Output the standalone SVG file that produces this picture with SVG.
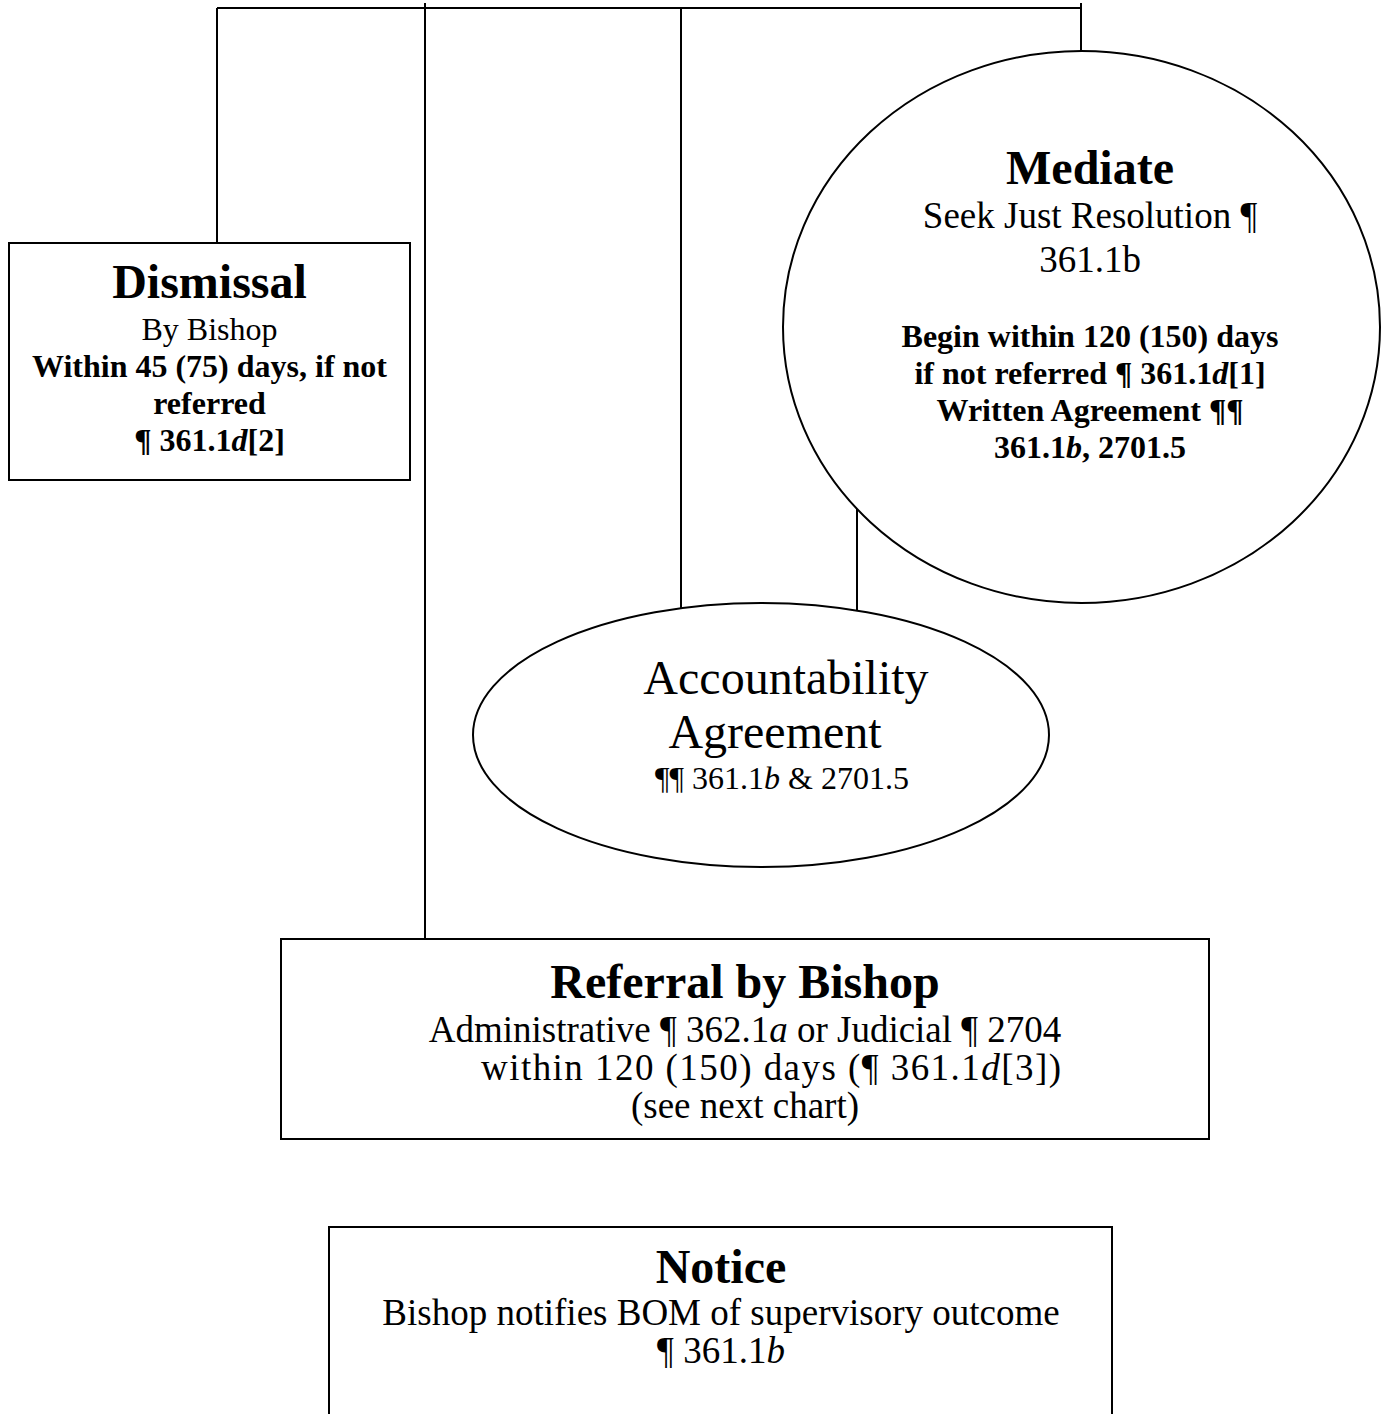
<svg xmlns="http://www.w3.org/2000/svg" width="1383" height="1414" viewBox="0 0 1383 1414">
<style>
  .shape { fill: #ffffff; stroke: #000000; stroke-width: 2; }
  .conn { fill: none; stroke: #000000; stroke-width: 2; }
  text { font-family: "Liberation Serif", "Times New Roman", serif; fill: #000000; text-anchor: middle; }
  .title { font-size: 48px; font-weight: bold; }
  .body { font-size: 37px; }
  .small { font-size: 32px; }
  .sb { font-size: 32px; font-weight: bold; }
  .i { font-style: italic; }
</style>
<rect x="0" y="0" width="1383" height="1414" fill="#ffffff"/>
<g id="connectors">
  <path class="conn" d="M217,8 H1081"/>
  <path class="conn" d="M217,8 V243"/>
  <path class="conn" d="M425,3 V939"/>
  <path class="conn" d="M681,8 V608"/>
  <path class="conn" d="M1081,3 V51"/>
  <path class="conn" d="M857,508 V611"/>
</g>
<g id="dismissal">
  <rect class="shape" x="9" y="243" width="401" height="237"/>
  <text class="title" x="209.5" y="298">Dismissal</text>
  <text class="small" x="209.5" y="340">By Bishop</text>
  <text class="sb" x="209.5" y="377">Within 45 (75) days, if not</text>
  <text class="sb" x="209.5" y="414">referred</text>
  <text class="sb" x="209.5" y="451">¶ 361.1<tspan class="i">d</tspan>[2]</text>
</g>
<g id="mediate">
  <ellipse class="shape" cx="1081.5" cy="327" rx="298.5" ry="276"/>
  <text class="title" x="1090" y="184">Mediate</text>
  <text class="body" x="1090" y="228">Seek Just Resolution ¶</text>
  <text class="body" x="1090" y="272">361.1b</text>
  <text class="sb" x="1090" y="347">Begin within 120 (150) days</text>
  <text class="sb" x="1090" y="384">if not referred ¶ 361.1<tspan class="i">d</tspan>[1]</text>
  <text class="sb" x="1090" y="421">Written Agreement ¶¶</text>
  <text class="sb" x="1090" y="458">361.1<tspan class="i">b</tspan>, 2701.5</text>
</g>
<g id="accountability">
  <ellipse class="shape" cx="761" cy="735" rx="288" ry="132"/>
  <text class="title" style="font-weight:normal" x="786" y="694">Accountability</text>
  <text class="title" style="font-weight:normal" x="775" y="748">Agreement</text>
  <text class="small" x="782" y="789">¶¶ 361.1<tspan class="i">b</tspan> &amp; 2701.5</text>
</g>
<g id="referral">
  <rect class="shape" x="281" y="939" width="928" height="200"/>
  <text class="title" x="745" y="998">Referral by Bishop</text>
  <text class="body" x="745" y="1042">Administrative ¶ 362.1<tspan class="i">a</tspan> or Judicial ¶ 2704</text>
  <text class="body" x="771" y="1080" textLength="580">within 120 (150) days (¶ 361.1<tspan class="i">d</tspan>[3])</text>
  <text class="body" x="745" y="1118">(see next chart)</text>
</g>
<g id="notice">
  <rect class="shape" x="329" y="1227" width="783" height="200"/>
  <text class="title" x="721" y="1283">Notice</text>
  <text class="body" x="721" y="1325">Bishop notifies BOM of supervisory outcome</text>
  <text class="body" x="721" y="1363">¶ 361.1<tspan class="i">b</tspan></text>
</g>
</svg>
